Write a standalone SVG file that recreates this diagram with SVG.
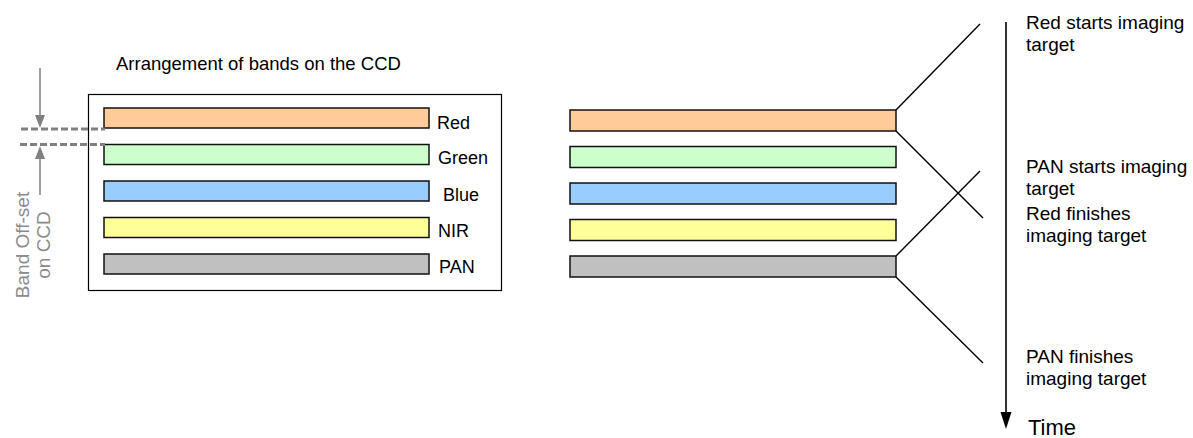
<svg xmlns="http://www.w3.org/2000/svg" width="1193" height="438" viewBox="0 0 1193 438">
<style>
text { font-family: "Liberation Sans", Arial, sans-serif; fill: #000; }
.lbl { font-size: 18px; }
.note { font-size: 19px; }
.band { stroke: #111; stroke-width: 1.5; }
.red { fill: #FFCC99; }
.green { fill: #CCFFCC; }
.blue { fill: #99CCFF; }
.nir { fill: #FFFF99; }
.pan { fill: #C0C0C0; }
.conn { stroke: #000; stroke-width: 1.4; fill: none; }
.grey { stroke: #808080; stroke-width: 1.5; fill: none; }
.dash { stroke: #808080; stroke-width: 3; stroke-dasharray: 7 3; fill: none; }
.gtext { font-size: 19px; fill: #8a8a8a; }
</style>
<rect width="1193" height="438" fill="#fff"/>

<g id="ccd-arrangement">
  <text x="116" y="70" style="font-size:18.5px">Arrangement of bands on the CCD</text>
  <rect x="88.5" y="94.5" width="413" height="196" fill="#fff" stroke="#000" stroke-width="1.2"/>
</g>

<g id="ccd-red"><rect class="band red" x="104" y="108" width="325" height="20"/><text class="lbl" x="437" y="128.5">Red</text></g>
<g id="ccd-green"><rect class="band green" x="104" y="144.5" width="325" height="20"/><text class="lbl" x="438" y="164">Green</text></g>
<g id="ccd-blue"><rect class="band blue" x="104" y="181" width="325" height="20"/><text class="lbl" x="443" y="200.5">Blue</text></g>
<g id="ccd-nir"><rect class="band nir" x="104" y="217.5" width="325" height="20"/><text class="lbl" x="438" y="237">NIR</text></g>
<g id="ccd-pan"><rect class="band pan" x="104" y="254" width="325" height="20"/><text class="lbl" x="439" y="272.5">PAN</text></g>

<g id="band-offset">
  <line class="dash" x1="21" y1="129" x2="105" y2="129"/>
  <line class="dash" x1="20" y1="144.5" x2="105" y2="144.5"/>
  <line class="grey" x1="40" y1="68" x2="40" y2="118"/>
  <polygon points="35,115 45,115 40,128" fill="#808080"/>
  <line class="grey" x1="40" y1="156" x2="40" y2="195"/>
  <polygon points="35,159 45,159 40,146" fill="#808080"/>
  <text class="gtext" transform="translate(29,245) rotate(-90)" text-anchor="middle">Band Off-set</text>
  <text class="gtext" transform="translate(50,245) rotate(-90)" text-anchor="middle">on CCD</text>
</g>

<g id="scan-red"><rect class="band red" x="570" y="110" width="326" height="21"/></g>
<g id="scan-green"><rect class="band green" x="570" y="146.5" width="326" height="21"/></g>
<g id="scan-blue"><rect class="band blue" x="570" y="183" width="326" height="21"/></g>
<g id="scan-nir"><rect class="band nir" x="570" y="219.5" width="326" height="21"/></g>
<g id="scan-pan"><rect class="band pan" x="570" y="256" width="326" height="21"/></g>

<g id="connectors">
  <line class="conn" x1="896" y1="110" x2="980" y2="24"/>
  <line class="conn" x1="896" y1="131" x2="983" y2="218"/>
  <line class="conn" x1="896" y1="256" x2="980" y2="171"/>
  <line class="conn" x1="896" y1="277" x2="983" y2="363"/>
  <line x1="1006" y1="22" x2="1006" y2="415" stroke="#000" stroke-width="1.6"/>
  <polygon points="1000.5,412 1011.5,412 1006,429" fill="#000"/>
</g>

<g id="time-labels">
  <text class="note" x="1026" y="29">Red starts imaging</text>
  <text class="note" x="1026" y="51">target</text>
  <text class="note" x="1026" y="173">PAN starts imaging</text>
  <text class="note" x="1026" y="195">target</text>
  <text class="note" x="1026" y="220">Red finishes</text>
  <text class="note" x="1026" y="242">imaging target</text>
  <text class="note" x="1026" y="363">PAN finishes</text>
  <text class="note" x="1026" y="385">imaging target</text>
  <text x="1028" y="435" style="font-size:22px">Time</text>
</g>
</svg>
